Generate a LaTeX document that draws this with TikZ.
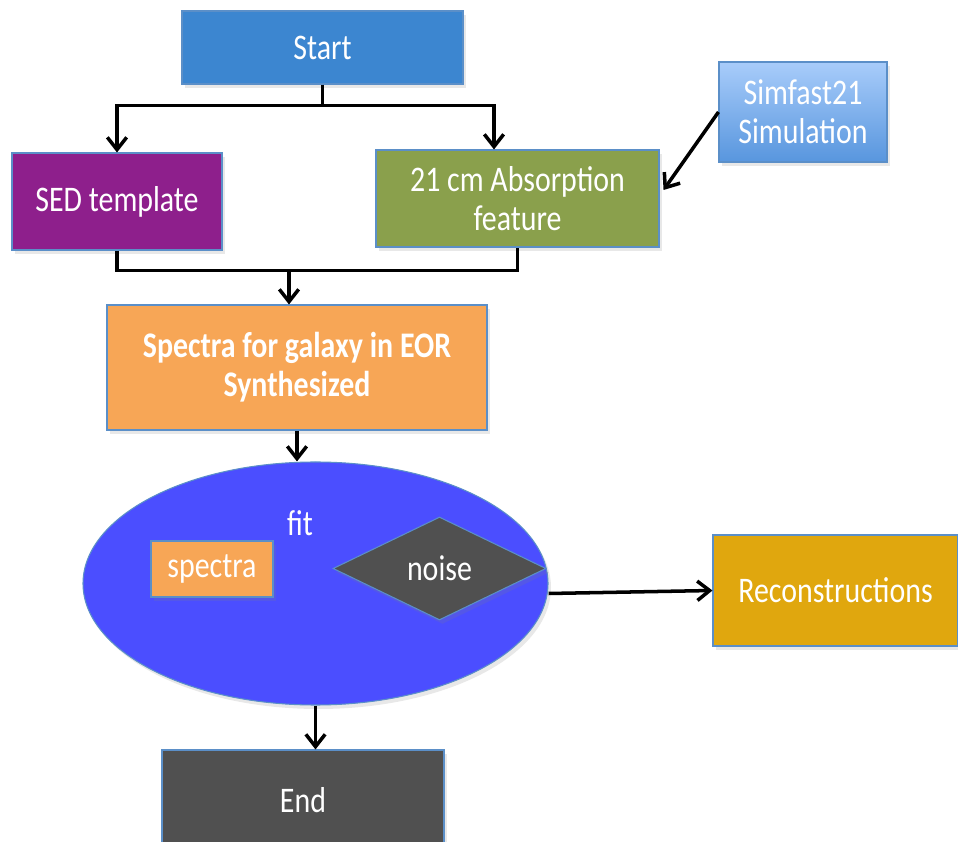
\documentclass[tikz,border=0pt]{standalone}
\usepackage{fontspec}
\setmainfont{Carlito}[FakeStretch=0.83]
\usepackage{xcolor}
\usetikzlibrary{
    arrows.meta,
    shapes,
    positioning,
    shadows,
    calc
}

\definecolor{edgeblue}{HTML}{5B8FC8}
\definecolor{startblue}{HTML}{3C86D0}
\definecolor{sedpurple}{HTML}{8E1F8C}
\definecolor{absgreen}{HTML}{8AA04C}
\definecolor{simtop}{HTML}{A8CCFA}
\definecolor{simbottom}{HTML}{5896DE}
\definecolor{specorange}{HTML}{F7A656}
\definecolor{fitblue}{HTML}{4B4EFF}
\definecolor{darkgray}{HTML}{505050}
\definecolor{reconyellow}{HTML}{E0A70E}

\tikzset{
    box/.style={rectangle, draw=edgeblue, line width=0.6pt, text=white, align=center,
        inner sep=0pt, font=\fontsize{20.5}{22}\selectfont,
        drop shadow={opacity=0.18, shadow xshift=0.06, shadow yshift=-0.08}},
    line/.style={line width=2pt},
    flow/.style={line, -{Straight Barb[length=7pt, width=11pt]}},
}

\begin{document}
\begin{tikzpicture}
                \useasboundingbox (0,0) rectangle (19.16,-16.84);
                \clip (0,0) rectangle (19.16,-16.84);

                % top row
                \node [box, fill=startblue, minimum width=5.62cm, minimum height=1.46cm] (start) at (6.45,-0.95) {Start};
                \node [box, fill=sedpurple, minimum width=4.2cm, minimum height=1.94cm] (sed) at (2.34,-4.03) {SED template};
                \node [box, fill=absgreen, minimum width=5.66cm, minimum height=1.94cm] (absorb) at (10.35,-3.97) {21 cm Absorption\\feature};
                \node [box, top color=simtop, bottom color=simbottom, minimum width=3.36cm, minimum height=2cm] (simfast) at (16.06,-2.24) {Simfast21\\Simulation};

                % synthesis
                \node [box, fill=specorange, minimum width=7.6cm, minimum height=2.5cm, font=\fontsize{20.5}{22}\selectfont\bfseries] (spectra) at (5.94,-7.35) {Spectra for galaxy in EOR\\Synthesized};

                % fit
                \node [box, ellipse, fill=fitblue, minimum width=9.3cm, minimum height=4.86cm] (fit) at (6.31,-11.67) {};
                \node [text=white, font=\fontsize{20.5}{22}\selectfont] (fitlabel) at (6.0,-10.46) {fit};
                \node [box, fill=specorange, minimum width=2.44cm, minimum height=1.12cm] (specbox) at (4.24,-11.38) {spectra};
                \node [box, diamond, fill=darkgray, minimum width=4.26cm, minimum height=2.06cm, drop shadow={opacity=0}] (noise) at (8.79,-11.37) {noise};

                \node [box, fill=reconyellow, minimum width=4.9cm, minimum height=2.22cm] (recon) at (16.71,-11.81) {Reconstructions};
                \node [box, fill=darkgray, minimum width=5.64cm, minimum height=2cm] (end) at (6.06,-16.0) {End};

                % connectors
                \draw [line] (start.south) -- ++(0,-0.42) coordinate (fork);
                \draw [flow] (fork) -| (sed.north);
                \draw [flow] (fork) -| ([xshift=-0.47cm]absorb.north);
                \draw [line] (sed.south) -- ++(0,-0.4) coordinate (join) -| (absorb.south);
                \coordinate (specin) at ([xshift=-0.16cm]spectra.north);
                \draw [flow] (join -| specin) -- (specin);
                \draw [flow] (simfast.west) -- ([shift={(0.08,0.17)}]absorb.east);
                \draw [flow] (spectra.south) -- (spectra.south |- fit.north);
                \draw [flow] ([yshift=-0.2cm]fit.east) -- (recon.west);
                \draw [flow] (fit.south) -- (fit.south |- end.north);

            \end{tikzpicture}
\end{document}
